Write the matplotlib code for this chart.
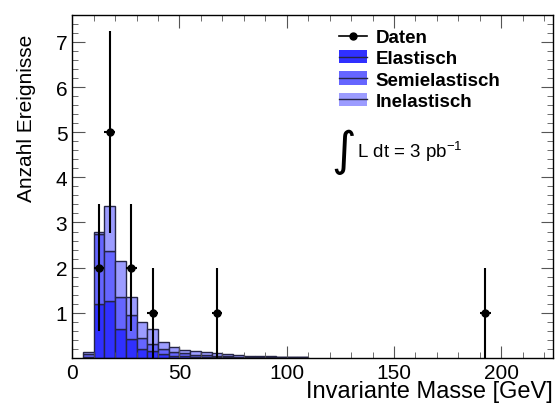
import numpy as np
from matplotlib import pyplot as plt
from matplotlib.patches import Patch
from matplotlib.lines import Line2D
from matplotlib.legend_handler import HandlerTuple
from matplotlib.ticker import MultipleLocator

plt.rcParams['font.family'] = ['Liberation Sans', 'DejaVu Sans']

# histogram bins (5 GeV wide), starting at 5 GeV
bin_lo = np.arange(5, 110, 5)
elastic = [0.03, 1.20, 1.27, 0.65, 0.42, 0.20, 0.16, 0.09, 0.05, 0.04, 0.03,
           0.02, 0.02, 0.02, 0.01, 0.01, 0.01, 0.01, 0.01, 0.01, 0.01]
semi = [0.06, 1.55, 1.10, 0.71, 0.52, 0.24, 0.15, 0.11, 0.08, 0.06, 0.04,
        0.04, 0.03, 0.02, 0.02, 0.01, 0.01, 0.01, 0.01, 0.01, 0.01]
inel = [0.05, 0.05, 0.99, 0.78, 0.42, 0.36, 0.33, 0.15, 0.12, 0.08, 0.08,
        0.06, 0.05, 0.04, 0.03, 0.03, 0.02, 0.02, 0.01, 0.01, 0.01]

# data points
data_x = [12.5, 17.5, 27.5, 37.5, 67.5, 192.5]
data_y = [2, 5, 2, 1, 1, 1]
err_lo = [1.41, 2.24, 1.41, 1.0, 1.0, 1.0]
err_hi = [1.41, 2.24, 1.41, 1.0, 1.0, 1.0]

fig = plt.figure(figsize=(5.55, 4.06), dpi=100)
ax = fig.add_axes([0.130, 0.116, 0.866, 0.845])

c_el = '#3030ff'
c_semi = '#6565ff'
c_inel = '#9c9cff'
edge = '#252545'

bottom = np.zeros(len(bin_lo))
for vals, col in [(elastic, c_el), (semi, c_semi), (inel, c_inel)]:
    ax.bar(bin_lo, vals, width=5, bottom=bottom, align='edge', color=col,
           edgecolor=edge, linewidth=1.0)
    bottom = bottom + np.array(vals)

ax.errorbar(data_x, data_y, yerr=[err_lo, err_hi], xerr=2.5, fmt='o',
            color='black', markersize=5, elinewidth=1.5, capsize=0)

ax.set_xlim(0, 224)
ax.set_ylim(0, 7.6)
ax.xaxis.set_major_locator(MultipleLocator(50))
ax.xaxis.set_minor_locator(MultipleLocator(10))
ax.yaxis.set_major_locator(MultipleLocator(1))
ax.yaxis.set_minor_locator(MultipleLocator(0.2))
ax.set_yticks([1, 2, 3, 4, 5, 6, 7])
ax.tick_params(which='both', direction='in', top=True, right=True,
               labelsize=15, color='#555555')
ax.tick_params(which='major', length=9)
ax.tick_params(which='minor', length=4.5)
for s in ax.spines.values():
    s.set_linewidth(1.0)

ax.set_xlabel('Invariante Masse [GeV]', fontsize=17, loc='right', labelpad=-1)
ax.set_ylabel('Anzahl Ereignisse', fontsize=15, y=0.945, ha='right',
              labelpad=14)

def box(col):
    return (Patch(facecolor=col, edgecolor='none'),
            Line2D([0], [0], color=edge, lw=1.0))

handles = [Line2D([0], [0], color='black', marker='o', markersize=5, lw=1.2),
           box(c_el), box(c_semi), box(c_inel)]
leg = ax.legend(handles, ['Daten', 'Elastisch', 'Semielastisch', 'Inelastisch'],
                loc='upper left', bbox_to_anchor=(0.52, 1.008), frameon=False,
                prop={'weight': 'bold', 'size': 13.5}, handlelength=1.5,
                handleheight=0.7, handletextpad=0.45, labelspacing=0.22,
                handler_map={tuple: HandlerTuple(ndivide=1, pad=0)})

ax.text(0.563, 0.604, r'$\int$', transform=ax.transAxes, fontsize=24,
        va='center', ha='center')
ax.text(0.593, 0.605, r'L dt = 3 pb$^{\mathregular{-1}}$', transform=ax.transAxes,
        fontsize=13.5, va='center', ha='left')

fig.savefig('out.png', dpi=100)
